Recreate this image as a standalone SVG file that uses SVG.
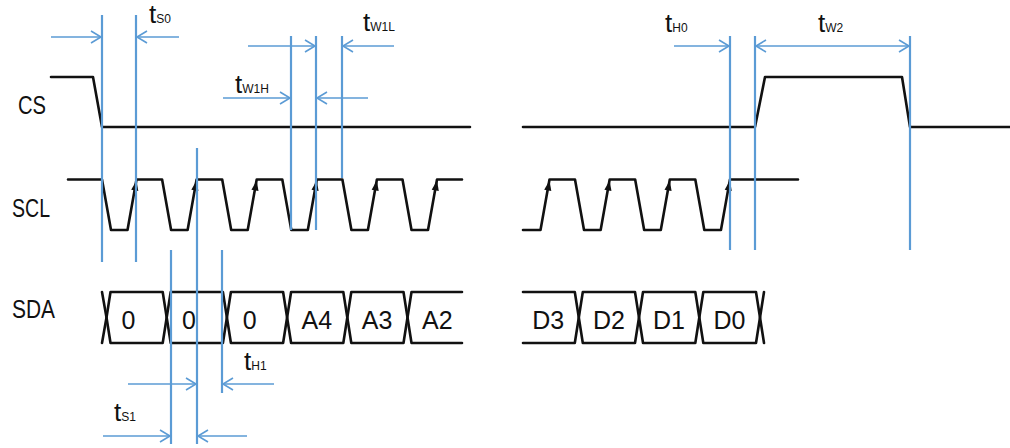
<svg xmlns="http://www.w3.org/2000/svg" width="1010" height="448" viewBox="0 0 1010 448">
<style>
.wave{fill:none;stroke:#111;stroke-width:2.6;stroke-linejoin:round;stroke-linecap:round}
.guide{stroke:#5B9BD5;stroke-width:2.2;fill:none}
.dim{stroke:#5B9BD5;stroke-width:1.6;fill:none}
.arr{marker-end:url(#ah)}
.arr2{marker-start:url(#ah);marker-end:url(#ah)}
.lbl{font-family:"Liberation Sans",Arial,sans-serif;font-size:26px;fill:#111}
.cell{font-family:"Liberation Sans",Arial,sans-serif;font-size:25px;fill:#111;text-anchor:middle}
.t{font-family:"Liberation Sans",Arial,sans-serif;font-size:26px;fill:#111}
.sub{font-size:12px}
</style>
<defs>
<marker id="ah" markerUnits="userSpaceOnUse" markerWidth="14" markerHeight="16" viewBox="-12 -8 14 16" refX="0" refY="0" orient="auto-start-reverse">
<path d="M-10,-6 L0,0 L-10,6" fill="none" stroke="#5B9BD5" stroke-width="1.6"/>
</marker>
<path id="up" d="M0,0 L-3.6,10 L3.6,10 Z" fill="#111"/>
</defs>

<g id="labels">
<text class="lbl" x="18" y="114" textLength="28" lengthAdjust="spacingAndGlyphs">CS</text>
<text class="lbl" x="12" y="217" textLength="38" lengthAdjust="spacingAndGlyphs">SCL</text>
<text class="lbl" x="12" y="318" textLength="43" lengthAdjust="spacingAndGlyphs">SDA</text>
</g>

<g id="cs">
<path class="wave" d="M51,77 L93,77 L102,127 L470,127"/>
<path class="wave" d="M523,127 L755,127 L765,77 L902,77 L910,127 L1010,127"/>
</g>

<g id="scl">
<path class="wave" d="M68,179.5 L102,179.5 L111,230 L127.5,230 L136.5,179.5 L162.1,179.5 L171.1,230 L187.6,230 L196.6,179.5 L222.2,179.5 L231.2,230 L247.7,230 L256.7,179.5 L282.3,179.5 L291.3,230 L307.8,230 L316.8,179.5 L342.4,179.5 L351.4,230 L367.9,230 L376.9,179.5 L402.5,179.5 L411.5,230 L428,230 L437,179.5 L462,179.5"/>
<path class="wave" d="M523,230 L540.5,230 L549.5,179.5 L575,179.5 L584,230 L600.65,230 L609.65,179.5 L635.15,179.5 L644.15,230 L660.8,230 L669.8,179.5 L695.3,179.5 L704.3,230 L720.95,230 L729.95,179.5 L798,179.5"/>
<use href="#up" transform="translate(136.5,180.5) rotate(10)"/>
<use href="#up" transform="translate(196.6,180.5) rotate(10)"/>
<use href="#up" transform="translate(256.7,180.5) rotate(10)"/>
<use href="#up" transform="translate(316.8,180.5) rotate(10)"/>
<use href="#up" transform="translate(376.9,180.5) rotate(10)"/>
<use href="#up" transform="translate(437,180.5) rotate(10)"/>
<use href="#up" transform="translate(549.5,180.5) rotate(10)"/>
<use href="#up" transform="translate(609.65,180.5) rotate(10)"/>
<use href="#up" transform="translate(669.8,180.5) rotate(10)"/>
<use href="#up" transform="translate(729.95,180.5) rotate(10)"/>
</g>

<g id="sda">
<path class="wave" d="M102,292 L106.5,317.5 L102,343"/>
<path class="wave" d="M106.5,317.5 L110.5,292 L162.7,292 L166.7,317.5 L162.7,343 L110.5,343 Z"/>
<path class="wave" d="M166.7,317.5 L170.7,292 L222.9,292 L226.9,317.5 L222.9,343 L170.7,343 Z"/>
<path class="wave" d="M226.9,317.5 L230.9,292 L283.1,292 L287.1,317.5 L283.1,343 L230.9,343 Z"/>
<path class="wave" d="M287.1,317.5 L291.1,292 L343.3,292 L347.3,317.5 L343.3,343 L291.1,343 Z"/>
<path class="wave" d="M347.3,317.5 L351.3,292 L403.5,292 L407.5,317.5 L403.5,343 L351.3,343 Z"/>
<path class="wave" d="M462,292 L411.5,292 L407.5,317.5 L411.5,343 L462,343"/>
<path class="wave" d="M523,292 L574.8,292 L578.8,317.5 L574.8,343 L523,343"/>
<path class="wave" d="M578.8,317.5 L582.8,292 L635,292 L639,317.5 L635,343 L582.8,343 Z"/>
<path class="wave" d="M639,317.5 L643,292 L695.3,292 L699.3,317.5 L695.3,343 L643,343 Z"/>
<path class="wave" d="M699.3,317.5 L703.3,292 L756,292 L760,317.5 L756,343 L703.3,343 Z"/>
<path class="wave" d="M764,292 L760,317.5 L764,343"/>
<text class="cell" x="128.5" y="329">0</text>
<text class="cell" x="189" y="329">0</text>
<text class="cell" x="249.7" y="329">0</text>
<text class="cell" x="316.8" y="329">A4</text>
<text class="cell" x="377" y="329">A3</text>
<text class="cell" x="437.3" y="329">A2</text>
<text class="cell" x="548.3" y="329">D3</text>
<text class="cell" x="609" y="329">D2</text>
<text class="cell" x="669" y="329">D1</text>
<text class="cell" x="729.5" y="329">D0</text>
</g>

<g id="connectors">
<line class="guide" x1="102" y1="15" x2="102" y2="262"/>
<line class="guide" x1="136" y1="15" x2="136" y2="262"/>
<line class="guide" x1="197" y1="148" x2="197" y2="444"/>
<line class="guide" x1="171" y1="250" x2="171" y2="444"/>
<line class="guide" x1="222" y1="250" x2="222" y2="393"/>
<line class="guide" x1="291" y1="36" x2="291" y2="230"/>
<line class="guide" x1="316" y1="36" x2="316" y2="230"/>
<line class="guide" x1="342" y1="36" x2="342" y2="178"/>
<line class="guide" x1="730" y1="36" x2="730" y2="250"/>
<line class="guide" x1="755" y1="36" x2="755" y2="250"/>
<line class="guide" x1="910" y1="36" x2="910" y2="250"/>

<line class="dim arr" x1="51" y1="37" x2="101" y2="37"/>
<line class="dim arr" x1="179" y1="37" x2="137" y2="37"/>
<line class="dim arr" x1="248" y1="46" x2="315" y2="46"/>
<line class="dim arr" x1="394" y1="46" x2="343" y2="46"/>
<line class="dim arr" x1="223" y1="98" x2="290" y2="98"/>
<line class="dim arr" x1="368" y1="98" x2="317" y2="98"/>
<line class="dim arr" x1="674" y1="46" x2="729" y2="46"/>
<line class="dim arr2" x1="756" y1="46" x2="909" y2="46"/>
<line class="dim arr" x1="128" y1="384" x2="196" y2="384"/>
<line class="dim arr" x1="274" y1="384" x2="223" y2="384"/>
<line class="dim arr" x1="103" y1="436" x2="170" y2="436"/>
<line class="dim arr" x1="247" y1="436" x2="198" y2="436"/>
</g>

<g id="timing-labels">
<text class="t" x="149" y="23">t<tspan class="sub">S0</tspan></text>
<text class="t" x="363" y="31">t<tspan class="sub">W1L</tspan></text>
<text class="t" x="235" y="93">t<tspan class="sub">W1H</tspan></text>
<text class="t" x="665" y="32">t<tspan class="sub">H0</tspan></text>
<text class="t" x="818" y="32">t<tspan class="sub">W2</tspan></text>
<text class="t" x="244" y="370">t<tspan class="sub">H1</tspan></text>
<text class="t" x="114" y="421">t<tspan class="sub">S1</tspan></text>
</g>
</svg>
